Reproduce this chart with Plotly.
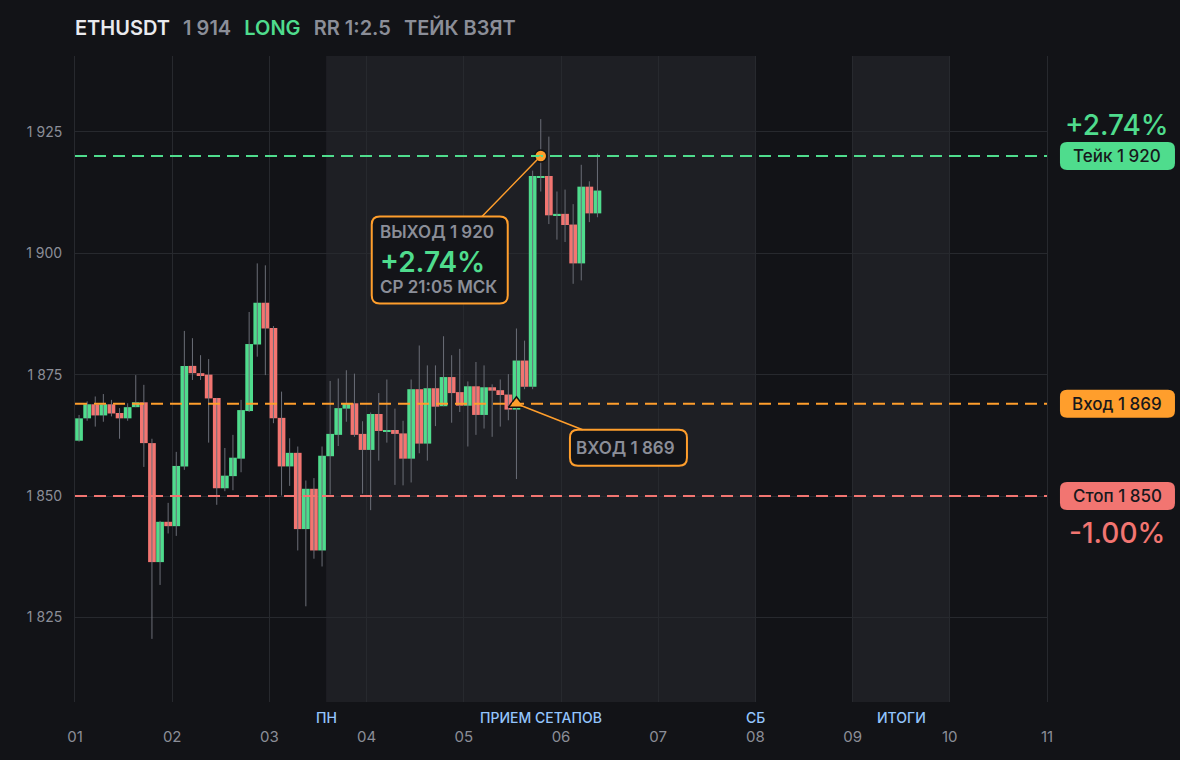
import pandas as pd
import plotly.graph_objects as go

# 2h candles, ETHUSDT
opens = [1861.4, 1866.0, 1868.9, 1866.6, 1868.9, 1867.1, 1866.0, 1868.3, 1869.3, 1860.9,
         1836.4, 1844.7, 1843.8, 1856.1, 1876.8, 1875.3, 1875.0, 1870.2, 1851.6, 1854.1,
         1857.7, 1867.5, 1881.2, 1889.8, 1884.6, 1866.1, 1856.1, 1858.9, 1843.2, 1851.5,
         1838.8, 1858.2, 1862.6, 1868.0, 1869.1, 1862.8, 1859.5, 1866.9, 1863.3, 1863.6,
         1862.9, 1857.7, 1872.0, 1860.8, 1872.2, 1868.5, 1874.5, 1871.4, 1868.6, 1872.6,
         1866.7, 1872.4, 1871.8, 1870.9, 1867.8, 1877.9, 1872.5, 1915.6, 1915.9, 1907.8,
         1908.1, 1905.9, 1897.9, 1913.7, 1908.2]
highs = [1866.7, 1869.5, 1870.5, 1871.0, 1869.8, 1868.1, 1869.1, 1874.9, 1872.9, 1861.8,
         1844.9, 1848.6, 1859.1, 1884.0, 1882.5, 1879.0, 1878.2, 1870.2, 1859.9, 1862.6,
         1869.8, 1887.9, 1897.9, 1897.5, 1885.0, 1871.5, 1861.9, 1860.2, 1853.2, 1853.7,
         1860.2, 1873.7, 1874.2, 1875.9, 1875.2, 1865.4, 1867.2, 1871.2, 1874.0, 1868.0,
         1865.5, 1874.0, 1881.0, 1876.9, 1876.9, 1882.9, 1879.0, 1880.3, 1873.6, 1877.6,
         1876.9, 1873.0, 1874.0, 1875.1, 1884.5, 1882.0, 1917.0, 1927.6, 1924.0, 1912.7,
         1913.1, 1910.1, 1918.2, 1914.8, 1920.5]
lows = [1861.2, 1865.5, 1864.3, 1865.3, 1866.4, 1861.8, 1865.5, 1868.3, 1856.0, 1820.6,
        1831.7, 1842.3, 1841.8, 1855.4, 1873.9, 1873.9, 1861.0, 1848.2, 1851.0, 1851.2,
        1854.9, 1867.3, 1878.7, 1874.9, 1865.0, 1850.1, 1852.1, 1838.8, 1827.3, 1837.1,
        1835.5, 1850.3, 1860.3, 1865.3, 1862.2, 1850.5, 1847.1, 1857.3, 1861.0, 1852.3,
        1852.2, 1852.8, 1858.8, 1857.3, 1864.4, 1868.5, 1865.1, 1867.3, 1860.2, 1862.6,
        1863.9, 1862.2, 1864.3, 1865.6, 1853.5, 1872.0, 1872.0, 1912.7, 1906.0, 1902.8,
        1902.3, 1893.7, 1894.4, 1906.4, 1907.4]
closes = [1866.0, 1868.9, 1866.6, 1868.9, 1867.0, 1866.0, 1868.3, 1869.3, 1860.9, 1836.4,
          1844.7, 1843.8, 1856.2, 1876.8, 1875.3, 1874.9, 1870.1, 1851.6, 1854.2, 1857.9,
          1867.7, 1881.3, 1889.8, 1884.5, 1866.0, 1856.1, 1858.9, 1843.2, 1851.5, 1838.8,
          1858.3, 1862.8, 1868.1, 1869.1, 1862.6, 1859.5, 1866.9, 1863.4, 1863.6, 1862.8,
          1857.7, 1872.0, 1860.8, 1872.2, 1868.4, 1874.5, 1871.2, 1868.6, 1872.6, 1866.7,
          1872.4, 1871.7, 1870.8, 1867.8, 1877.9, 1872.5, 1915.9, 1915.9, 1907.8, 1908.1,
          1905.8, 1897.9, 1913.7, 1908.2, 1912.9]

times = pd.date_range("2023-07-01 01:00", periods=len(opens), freq="2h")

entry_price = 1869
take_price = 1920
stop_price = 1850
entry_time = "2023-07-05 13:00"
exit_time = "2023-07-05 19:00"

# session bands and their labels
bands = [("2023-07-03 14:00", "2023-07-08 00:00"), ("2023-07-09 00:00", "2023-07-10 00:00")]
band_labels = [("2023-07-03 14:00", "ПН"), ("2023-07-05 19:00", "ПРИЕМ СЕТАПОВ"),
               ("2023-07-08 00:00", "СБ"), ("2023-07-09 12:00", "ИТОГИ")]

y_ticks = [1825, 1850, 1875, 1900, 1925]
y_ticktext = ["1 825", "1 850", "1 875", "1 900", "1 925"]

BG = "#121317"
BAND = "#1e1f24"
GRID = "#27292e"
GREEN = "#4fdc8d"
RED = "#f27571"
ORANGE = "#ff9e2c"
GRAY = "#8b8e98"
WICK = "#6b6e77"
BOXBG = "#131418"
FONT = "Inter"


def rrect(x0, y0, x1, y1, r):
    # rounded rectangle path (pixel units, relative to the shape anchor)
    return (f"M{x0 + r},{y0} L{x1 - r},{y0} Q{x1},{y0} {x1},{y0 + r} "
            f"L{x1},{y1 - r} Q{x1},{y1} {x1 - r},{y1} L{x0 + r},{y1} "
            f"Q{x0},{y1} {x0},{y1 - r} L{x0},{y0 + r} Q{x0},{y0} {x0 + r},{y0} Z")


fig = go.Figure()

# wicks
wx, wy = [], []
for t, lo, hi in zip(times, lows, highs):
    wx += [t, t, None]
    wy += [lo, hi, None]
fig.add_trace(go.Scatter(x=wx, y=wy, mode="lines", line=dict(color=WICK, width=1),
                         hoverinfo="skip", showlegend=False))

# bodies
base = [min(o, c) for o, c in zip(opens, closes)]
size = [max(abs(c - o), 0.25) for o, c in zip(opens, closes)]
cols = [GREEN if c >= o else RED for o, c in zip(opens, closes)]
fig.add_trace(go.Bar(x=times, y=size, base=base, width=2 * 3600 * 1000 * 0.95,
                     marker=dict(color=cols, line=dict(width=0)), showlegend=False))

# entry / exit markers
fig.add_trace(go.Scatter(x=[entry_time], y=[entry_price], mode="markers",
                         marker=dict(symbol="triangle-up", size=14, color=ORANGE,
                                     line=dict(color="#111214", width=1.5)),
                         showlegend=False))
fig.add_trace(go.Scatter(x=[exit_time], y=[take_price], mode="markers",
                         marker=dict(symbol="circle", size=12, color=ORANGE,
                                     line=dict(color="#111214", width=1.5)),
                         showlegend=False))

shapes = []
for x0, x1 in bands:
    shapes.append(dict(type="rect", xref="x", yref="paper", x0=x0, x1=x1, y0=0, y1=1,
                       fillcolor=BAND, line=dict(width=0), layer="below"))
for lvl, col in [(take_price, GREEN), (entry_price, ORANGE), (stop_price, RED)]:
    shapes.append(dict(type="line", xref="paper", yref="y", x0=0, x1=1, y0=lvl, y1=lvl,
                       line=dict(color=col, width=2, dash="12px,7px"), layer="above"))

annotations = []
for x, txt in band_labels:
    annotations.append(dict(x=x, y=0, xref="x", yref="paper", yanchor="top", yshift=-5,
                            text=txt, showarrow=False,
                            font=dict(family=FONT, size=14, color="#93c5fd", weight=500)))

# right-side level tags
TAG_X = 1.0725
for lvl, txt, col in [(take_price, "Тейк 1 920", GREEN),
                      (entry_price, "Вход 1 869", ORANGE),
                      (stop_price, "Стоп 1 850", RED)]:
    shapes.append(dict(type="path", xref="paper", yref="y", xsizemode="pixel", ysizemode="pixel",
                       xanchor=TAG_X, yanchor=lvl, path=rrect(-57.5, -14, 57.5, 14, 7),
                       fillcolor=col, line=dict(width=0), layer="above"))
    annotations.append(dict(x=TAG_X, y=lvl, xref="paper", yref="y", xanchor="center",
                            yanchor="middle", text=txt, showarrow=False,
                            font=dict(family=FONT, size=17, color="#17181c", weight=500)))
annotations.append(dict(x=TAG_X, y=take_price, xref="paper", yref="y", xanchor="center",
                        yshift=31, text="+2.74%", showarrow=False,
                        font=dict(family=FONT, size=28, color=GREEN, weight=500)))
annotations.append(dict(x=TAG_X, y=stop_price, xref="paper", yref="y", xanchor="center",
                        yshift=-37, text="-1.00%", showarrow=False,
                        font=dict(family=FONT, size=28, color=RED, weight=500)))

# callouts: annotation keeps an invisible box (so the leader line stops at its edge),
# the visible rounded box is a pixel-sized shape anchored at the same point
callouts = [
    dict(x=exit_time, y=take_price, ax=-101, ay=104, w=120, h=71, pad=7, text="\u00a0"),
    dict(x=entry_time, y=entry_price, ax=112, ay=44, w=105, h=24, pad=5, text="ВХОД 1 869"),
]
for c in callouts:
    annotations.append(dict(
        x=c["x"], y=c["y"], xref="x", yref="y", ax=c["ax"], ay=c["ay"], text=c["text"],
        align="left", showarrow=True, arrowhead=0, arrowwidth=1.5, arrowcolor=ORANGE, standoff=0,
        bgcolor="rgba(0,0,0,0)", bordercolor="rgba(0,0,0,0)", borderwidth=2, borderpad=c["pad"],
        width=c["w"], height=c["h"], font=dict(family=FONT, size=17, color=GRAY, weight=600)))
    hw = c["w"] / 2 + c["pad"] + 1
    hh = c["h"] / 2 + c["pad"] + 1
    cx, cy = c["ax"], -c["ay"]
    shapes.append(dict(type="path", xref="x", yref="y", xsizemode="pixel", ysizemode="pixel",
                       xanchor=c["x"], yanchor=c["y"],
                       path=rrect(cx - hw, cy - hh, cx + hw, cy + hh, 8),
                       fillcolor=BOXBG, line=dict(color=ORANGE, width=2), layer="above"))

# exit callout text, three lines placed inside the box
exit_lines = [("ВЫХОД 1 920", 17, GRAY, 600, -76),
              ("+2.74%", 28, GREEN, 600, -106),
              ("СР 21:05 МСК", 17, GRAY, 600, -131)]
for txt, fs, col, wt, dy in exit_lines:
    annotations.append(dict(x=exit_time, y=take_price, xref="x", yref="y", xanchor="left",
                            yanchor="middle", xshift=-163, yshift=dy, text=txt, showarrow=False,
                            font=dict(family=FONT, size=fs, color=col, weight=wt)))

GAP = "\u00a0\u00a0<span style='font-size:12px'>\u00a0</span>"
title = ("<span style='color:#e9eaee'>ETHUSDT</span>" + GAP +
         "<span style='color:%s'>1 914</span>" + GAP +
         "<span style='color:%s'>LONG</span>" + GAP +
         "<span style='color:%s'>RR 1:2.5</span>" + GAP +
         "<span style='color:%s'>ТЕЙК ВЗЯТ</span>") % (GRAY, GREEN, GRAY, GRAY)

fig.update_layout(
    width=1180, height=760,
    paper_bgcolor=BG, plot_bgcolor=BG,
    margin=dict(l=75, r=133, t=56, b=58),
    title=dict(text=title, x=75 / 1180, xanchor="left", xref="container",
               y=1 - 28 / 760, yanchor="middle", yref="container",
               font=dict(family=FONT, size=20, weight=600)),
    barmode="overlay",
    showlegend=False,
    shapes=shapes,
    annotations=annotations,
    font=dict(family=FONT, color=GRAY),
)
fig.update_xaxes(type="date", range=["2023-07-01", "2023-07-11"], tick0="2023-07-01",
                 dtick=86400000, tickformat="%d", showgrid=True, gridcolor=GRID, gridwidth=1,
                 ticks="outside", ticklen=21, tickcolor=BG, zeroline=False,
                 tickfont=dict(family=FONT, size=15, color=GRAY))
fig.update_yaxes(range=[1807.6, 1940.6], tickvals=y_ticks, ticktext=y_ticktext,
                 showgrid=True, gridcolor=GRID, gridwidth=1, zeroline=False,
                 showline=True, linecolor=GRID, linewidth=1, mirror=True,
                 ticks="outside", ticklen=9, tickcolor=BG,
                 tickfont=dict(family=FONT, size=14, color=GRAY))

fig.write_html("out.html", config={"displayModeBar": False},
               post_script="document.body.style.margin='0';document.body.style.background='%s';" % BG)
